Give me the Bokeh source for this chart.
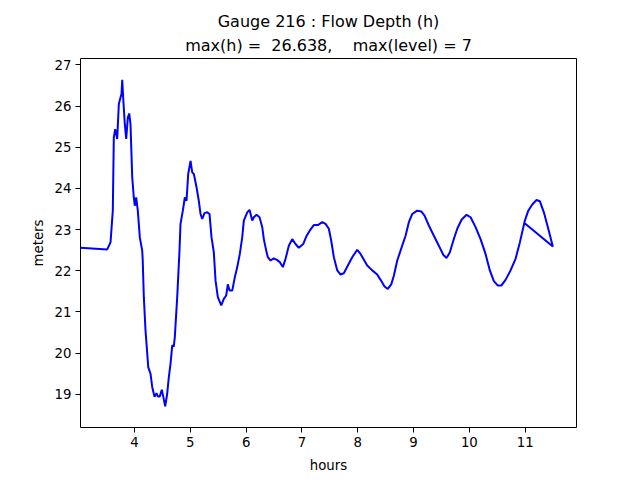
from bokeh.plotting import figure
from bokeh.models import Range1d, Title, FixedTicker
from bokeh.embed import file_html
from bokeh.resources import INLINE

hours = [3.03, 3.51, 3.57, 3.611, 3.629, 3.654, 3.690, 3.719, 3.749, 3.767, 3.780,
         3.797, 3.826, 3.851, 3.880, 3.905, 3.928, 3.959, 3.987, 4.005, 4.030, 4.059,
         4.095, 4.138, 4.147, 4.167, 4.197, 4.246, 4.287, 4.317, 4.358, 4.394, 4.418,
         4.453, 4.489, 4.514, 4.550, 4.586, 4.615, 4.645, 4.676, 4.704, 4.722, 4.765,
         4.806, 4.824, 4.866, 4.901, 4.932, 4.962, 5.004, 5.034, 5.063, 5.111, 5.152,
         5.183, 5.213, 5.254, 5.303, 5.344, 5.380, 5.421, 5.452, 5.493, 5.554, 5.600,
         5.643, 5.672, 5.703, 5.751, 5.797, 5.841, 5.887, 5.930, 5.959, 6.020, 6.061,
         6.109, 6.138, 6.186, 6.240, 6.289, 6.317, 6.360, 6.389, 6.437, 6.496, 6.557,
         6.604, 6.658, 6.706, 6.765, 6.826, 6.885, 6.944, 7.023, 7.077, 7.142, 7.213,
         7.285, 7.364, 7.423, 7.482, 7.525, 7.572, 7.633, 7.692, 7.751, 7.823, 7.901,
         7.991, 8.050, 8.170, 8.260, 8.349, 8.409, 8.480, 8.539, 8.600, 8.647, 8.708,
         8.797, 8.857, 8.916, 8.977, 9.066, 9.138, 9.197, 9.274, 9.364, 9.453, 9.532,
         9.591, 9.651, 9.712, 9.783, 9.860, 9.950, 10.022, 10.111, 10.201, 10.290,
         10.367, 10.439, 10.511, 10.572, 10.649, 10.738, 10.828, 10.905, 10.995, 11.056,
         11.127, 11.204, 11.263, 11.335, 11.407, 11.496, 10.97]

depth = [22.56, 22.52, 22.69, 23.46, 25.24, 25.44, 25.20, 26.05, 26.21, 26.29, 26.638,
         26.20, 25.56, 25.20, 25.72, 25.82, 25.56, 24.27, 23.78, 23.58, 23.78, 23.46,
         22.81, 22.49, 22.25, 21.36, 20.55, 19.66, 19.50, 19.18, 18.94, 19.03, 18.95,
         18.95, 19.11, 18.95, 18.71, 19.02, 19.42, 19.74, 20.19, 20.16, 20.39, 21.36,
         22.49, 23.14, 23.46, 23.78, 23.70, 24.35, 24.67, 24.39, 24.35, 24.03, 23.70,
         23.38, 23.26, 23.40, 23.42, 23.38, 22.81, 22.45, 21.76, 21.36, 21.16, 21.32,
         21.40, 21.67, 21.52, 21.52, 21.84, 22.09, 22.41, 22.81, 23.22, 23.42, 23.48,
         23.22, 23.30, 23.36, 23.30, 23.06, 22.77, 22.49, 22.33, 22.25, 22.30, 22.26,
         22.21, 22.09, 22.29, 22.61, 22.77, 22.65, 22.56, 22.65, 22.83, 22.98, 23.11,
         23.11, 23.18, 23.14, 23.02, 22.73, 22.33, 22.01, 21.91, 21.94, 22.13, 22.33,
         22.51, 22.41, 22.13, 22.01, 21.91, 21.78, 21.62, 21.56, 21.67, 21.88, 22.25,
         22.61, 22.85, 23.18, 23.38, 23.46, 23.44, 23.34, 23.10, 22.85, 22.61, 22.39,
         22.31, 22.45, 22.73, 23.02, 23.24, 23.36, 23.30, 23.06, 22.77, 22.41,
         22.01, 21.75, 21.64, 21.64, 21.78, 22.01, 22.29, 22.69, 23.22, 23.46,
         23.61, 23.72, 23.69, 23.42, 23.06, 22.59, 23.18]

x_ticks = [4, 5, 6, 7, 8, 9, 10, 11]
y_ticks = [19, 20, 21, 22, 23, 24, 25, 26, 27]

NB = "\u00a0"
title_line1 = "Gauge 216 : Flow Depth (h)"
title_line2 = "max(h) =" + NB * 2 + "26.638," + NB * 4 + "max(level) = 7"

FONT = "DejaVu Sans"

p = figure(width=640, height=480, output_backend="svg", toolbar_location=None,
           x_range=Range1d(3.032, 11.92), y_range=Range1d(18.195, 27.155),
           min_border_left=80, min_border_right=64, min_border_top=58,
           min_border_bottom=53, title=None)

p.line(hours, depth, line_color="#0000ff", line_width=2)

p.add_layout(Title(text=title_line2, align="center", text_font=FONT,
                   text_font_size="16px", text_font_style="normal",
                   text_color="black", standoff=7), "above")
p.add_layout(Title(text=title_line1, align="center", text_font=FONT,
                   text_font_size="16px", text_font_style="normal",
                   text_color="black", standoff=0), "above")

p.xgrid.visible = False
p.ygrid.visible = False
p.outline_line_color = "black"
p.outline_line_width = 1
p.outline_line_alpha = 1
p.background_fill_color = "white"
p.border_fill_color = "white"

p.xaxis.ticker = FixedTicker(ticks=x_ticks)
p.yaxis.ticker = FixedTicker(ticks=y_ticks)
p.xaxis.axis_label = "hours"
p.yaxis.axis_label = "meters"
for ax in (p.xaxis, p.yaxis):
    ax.axis_line_color = None
    ax.major_tick_line_color = "black"
    ax.major_tick_in = 0
    ax.major_tick_out = 5
    ax.minor_tick_line_color = None
    ax.major_label_text_font = FONT
    ax.major_label_text_font_size = "13.3px"
    ax.major_label_text_color = "black"
    ax.major_label_standoff = 4
    ax.axis_label_text_font = FONT
    ax.axis_label_text_font_size = "13.3px"
    ax.axis_label_text_font_style = "normal"
    ax.axis_label_text_color = "black"
    ax.axis_label_standoff = 6
p.xaxis.axis_label_standoff = 8
p.yaxis.major_label_orientation = "horizontal"

open("out.html", "w").write(file_html(p, INLINE))
